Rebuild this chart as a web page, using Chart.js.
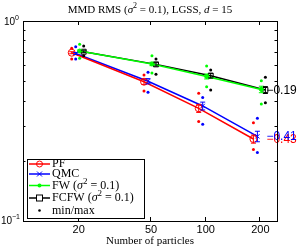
<!DOCTYPE html>
<html>
<head>
<meta charset="utf-8">
<script src="https://cdn.jsdelivr.net/npm/chart.js@4.4.1/dist/chart.umd.min.js"></script>
<style>
  body { margin: 0; background: #fff; }
</style>
</head>
<body>
<canvas id="mycanvas" width="299" height="249"></canvas>
<script>
// number of particles
var particles = [20, 50, 100, 200];
var xTicks = [20, 50, 100, 200];

// mean MMD RMS
var pfMean   = [0.694, 0.497, 0.366, 0.257];
var qmcMean  = [0.688, 0.500, 0.376, 0.265];
var fwMean   = [0.708, 0.610, 0.528, 0.455];
var fcfwMean = [0.702, 0.607, 0.533, 0.452];

// error bar half widths
var pfErr   = [0.008, 0.015, 0.017, 0.012];
var qmcErr  = [0.008, 0.015, 0.017, 0.016];
var fwErr   = [0.008, 0.012, 0.015, 0.017];
var fcfwErr = [0.008, 0.012, 0.014, 0.018];

// min / max over runs
var pfMin   = [0.646, 0.447, 0.314, 0.228];
var pfMax   = [0.730, 0.537, 0.435, 0.310];
var qmcMin  = [0.646, 0.440, 0.305, 0.220];
var qmcMax  = [0.744, 0.554, 0.415, 0.326];
var fwMin   = [0.651, 0.550, 0.469, 0.385];
var fwMax   = [0.765, 0.670, 0.596, 0.503];
var fcfwMin = [0.670, 0.541, 0.452, 0.390];
var fcfwMax = [0.750, 0.646, 0.569, 0.523];

// fitted slopes
var slopeText = ["\u22120.43", "\u22120.41", "", "\u22120.19"];

var names = ["PF", "QMC", "FW", "FCFW"];
var colors = ["#ff0000", "#0000ff", "#00ff00", "#000000"];
var shift = [0.927, 0.975, 1.025, 1.079];   // horizontal dodge so markers don't overlap

var means = [pfMean, qmcMean, fwMean, fcfwMean];
var errs = [pfErr, qmcErr, fwErr, fcfwErr];
var mins = [pfMin, qmcMin, fwMin, fcfwMin];
var maxs = [pfMax, qmcMax, fwMax, fcfwMax];
var styles = [
  { pointStyle: "circle", pointRadius: 3.5, fill: false },
  { pointStyle: "crossRot", pointRadius: 3, fill: false },
  { pointStyle: "circle", pointRadius: 2, fill: true },
  { pointStyle: "rect", pointRadius: 3.5, fill: false }
];

function pts(vals, k) {
  var out = [];
  for (var i in particles) out.push({ x: particles[i] * shift[k], y: vals[i] });
  return out;
}

var datasets = [];
// min/max dots first (under the lines)
for (var k = 0; k < 4; k++) {
  datasets.push({
    label: "min/max " + names[k],
    data: pts(mins[k], k).concat(pts(maxs[k], k)),
    showLine: false,
    pointStyle: "circle",
    pointRadius: 1.5,
    pointBorderWidth: 0,
    backgroundColor: colors[k],
    borderColor: colors[k]
  });
}
for (var k = 0; k < 4; k++) {
  datasets.push({
    label: names[k],
    data: pts(means[k], k),
    showLine: true,
    borderColor: colors[k],
    borderWidth: 1.5,
    pointStyle: styles[k].pointStyle,
    pointRadius: styles[k].pointRadius,
    pointBorderWidth: 1,
    pointBackgroundColor: styles[k].fill ? colors[k] : "rgba(0,0,0,0)",
    pointBorderColor: colors[k],
    errs: errs[k],
    means: means[k],
    seriesIndex: k
  });
}

var SERIF = "'Liberation Serif', 'DejaVu Serif', serif";
var SANS = "'Liberation Sans', Arial, sans-serif";

// draw a run of text pieces with different fonts / raise
function drawRuns(ctx, runs, x, y, align) {
  var w = 0;
  runs.forEach(function (r) { ctx.font = r.font; w += ctx.measureText(r.t).width; });
  var cx = align === "center" ? x - w / 2 : (align === "right" ? x - w : x);
  ctx.textAlign = "left";
  ctx.textBaseline = "middle";
  runs.forEach(function (r) {
    ctx.font = r.font;
    ctx.fillText(r.t, cx, y + (r.dy || 0));
    cx += ctx.measureText(r.t).width;
  });
}

function sigmaRuns(pre, size) {
  return [
    { t: pre + "(", font: size + "px " + SERIF },
    { t: "\u03c3", font: "italic " + size + "px " + SERIF },
    { t: "2", font: (size - 3) + "px " + SERIF, dy: -4 },
    { t: " = 0.1)", font: size + "px " + SERIF }
  ];
}

var decor = {
  id: "decor",
  afterDatasetsDraw: function (chart) {
    var ctx = chart.ctx, a = chart.chartArea;
    var xs = chart.scales.x, ys = chart.scales.y;
    ctx.save();

    // error bars
    chart.data.datasets.forEach(function (ds) {
      if (!ds.errs) return;
      ctx.strokeStyle = ds.borderColor;
      ctx.lineWidth = 1;
      ds.data.forEach(function (p, i) {
        var px = xs.getPixelForValue(p.x);
        var y1 = ys.getPixelForValue(p.y - ds.errs[i]);
        var y2 = ys.getPixelForValue(p.y + ds.errs[i]);
        ctx.beginPath();
        ctx.moveTo(px, y1); ctx.lineTo(px, y2);
        ctx.moveTo(px - 2.5, y1); ctx.lineTo(px + 2.5, y1);
        ctx.moveTo(px - 2.5, y2); ctx.lineTo(px + 2.5, y2);
        ctx.stroke();
      });
    });

    // slope labels
    ctx.font = "12px " + SANS;
    ctx.textAlign = "left";
    ctx.textBaseline = "middle";
    for (var k = 0; k < 4; k++) {
      if (!slopeText[k]) continue;
      ctx.fillStyle = colors[k];
      var last = means[k][means[k].length - 1];
      ctx.fillText(slopeText[k], xs.getPixelForValue(particles[particles.length - 1]) + 7, ys.getPixelForValue(last) + 0.5);
    }

    // axes box
    ctx.strokeStyle = "#000";
    ctx.lineWidth = 1;
    ctx.strokeRect(Math.round(a.left) + 0.5, Math.round(a.top) + 0.5, Math.round(a.right - a.left), Math.round(a.bottom - a.top));

    // inward ticks
    ctx.beginPath();
    xTicks.forEach(function (t) {
      var px = Math.round(xs.getPixelForValue(t)) + 0.5;
      ctx.moveTo(px, a.bottom); ctx.lineTo(px, a.bottom - 4);
      ctx.moveTo(px, a.top); ctx.lineTo(px, a.top + 4);
    });
    for (var m = 2; m <= 9; m++) {
      var py = Math.round(ys.getPixelForValue(m / 10)) + 0.5;
      ctx.moveTo(a.left, py); ctx.lineTo(a.left + 2.5, py);
      ctx.moveTo(a.right, py); ctx.lineTo(a.right - 2.5, py);
    }
    ctx.stroke();

    // tick labels
    ctx.fillStyle = "#000";
    ctx.font = "11px " + SANS;
    ctx.textAlign = "center";
    ctx.textBaseline = "middle";
    xTicks.forEach(function (t) {
      ctx.fillText(String(t), xs.getPixelForValue(t) + 1, a.bottom + 9);
    });
    drawRuns(ctx, [{ t: "10", font: "10px " + SANS }, { t: "0", font: "7px " + SANS, dy: -4 }],
      19, ys.getPixelForValue(1) + 1.5, "right");
    drawRuns(ctx, [{ t: "10", font: "10px " + SANS }, { t: "\u22121", font: "7px " + SANS, dy: -4 }],
      20, ys.getPixelForValue(0.1) + 0.5, "right");

    // axis title
    ctx.font = "11px " + SERIF;
    ctx.textAlign = "center";
    ctx.fillText("Number of particles", (a.left + a.right) / 2, 241);

    // chart title
    drawRuns(ctx, [
      { t: "MMD RMS (", font: "11px " + SERIF },
      { t: "\u03c3", font: "italic 11px " + SERIF },
      { t: "2", font: "8px " + SERIF, dy: -4 },
      { t: " = 0.1), LGSS, ", font: "11px " + SERIF },
      { t: "d", font: "italic 11px " + SERIF },
      { t: " = 15", font: "11px " + SERIF }
    ], 150, 10, "center");

    // legend
    var lx = 27, ly = 159, lw = 117, lh = 59;
    ctx.fillStyle = "#fff";
    ctx.fillRect(lx, ly, lw, lh);
    ctx.strokeStyle = "#000";
    ctx.strokeRect(lx + 0.5, ly + 0.5, lw, lh);
    var rows = [164, 174, 185.5, 198, 210.5];
    var labels = [
      [{ t: "PF", font: "12px " + SERIF }],
      [{ t: "QMC", font: "12px " + SERIF }],
      sigmaRuns("FW ", 12),
      sigmaRuns("FCFW ", 12),
      [{ t: "min/max", font: "12px " + SERIF }]
    ];
    for (var r = 0; r < 5; r++) {
      var yy = rows[r], mx = 39.5;
      if (r < 4) {
        var c = colors[r];
        ctx.strokeStyle = c; ctx.fillStyle = c;
        ctx.lineWidth = 1.5;
        ctx.beginPath(); ctx.moveTo(29, yy); ctx.lineTo(50, yy); ctx.stroke();
        ctx.lineWidth = 1;
        ctx.beginPath();
        if (r === 0) { ctx.arc(mx, yy, 3, 0, 2 * Math.PI); ctx.stroke(); }
        if (r === 1) { ctx.moveTo(mx - 2.5, yy - 2.5); ctx.lineTo(mx + 2.5, yy + 2.5); ctx.moveTo(mx - 2.5, yy + 2.5); ctx.lineTo(mx + 2.5, yy - 2.5); ctx.stroke(); }
        if (r === 2) { ctx.arc(mx, yy, 2, 0, 2 * Math.PI); ctx.fill(); }
        if (r === 3) { ctx.fillStyle = "#fff"; ctx.fillRect(mx - 3, yy - 3, 6, 6); ctx.strokeRect(mx - 3, yy - 3, 6, 6); }
      } else {
        ctx.fillStyle = "#000";
        ctx.beginPath(); ctx.arc(mx, yy, 1.3, 0, 2 * Math.PI); ctx.fill();
      }
      ctx.fillStyle = "#000";
      drawRuns(ctx, labels[r], 52, yy, "left");
    }
    ctx.restore();
  }
};

var ctx = document.getElementById("mycanvas");
var chart = new Chart(ctx, {
  type: "scatter",
  data: { datasets: datasets },
  options: {
    responsive: false,
    animation: false,
    layout: { padding: { left: 23, right: 22, top: 21, bottom: 28 } },
    plugins: { legend: { display: false }, tooltip: { enabled: false }, title: { display: false } },
    scales: {
      x: { type: "logarithmic", min: 10, max: 250, display: false },
      y: { type: "logarithmic", min: 0.1, max: 1, display: false }
    }
  },
  plugins: [decor]
});
</script>
</body>
</html>
